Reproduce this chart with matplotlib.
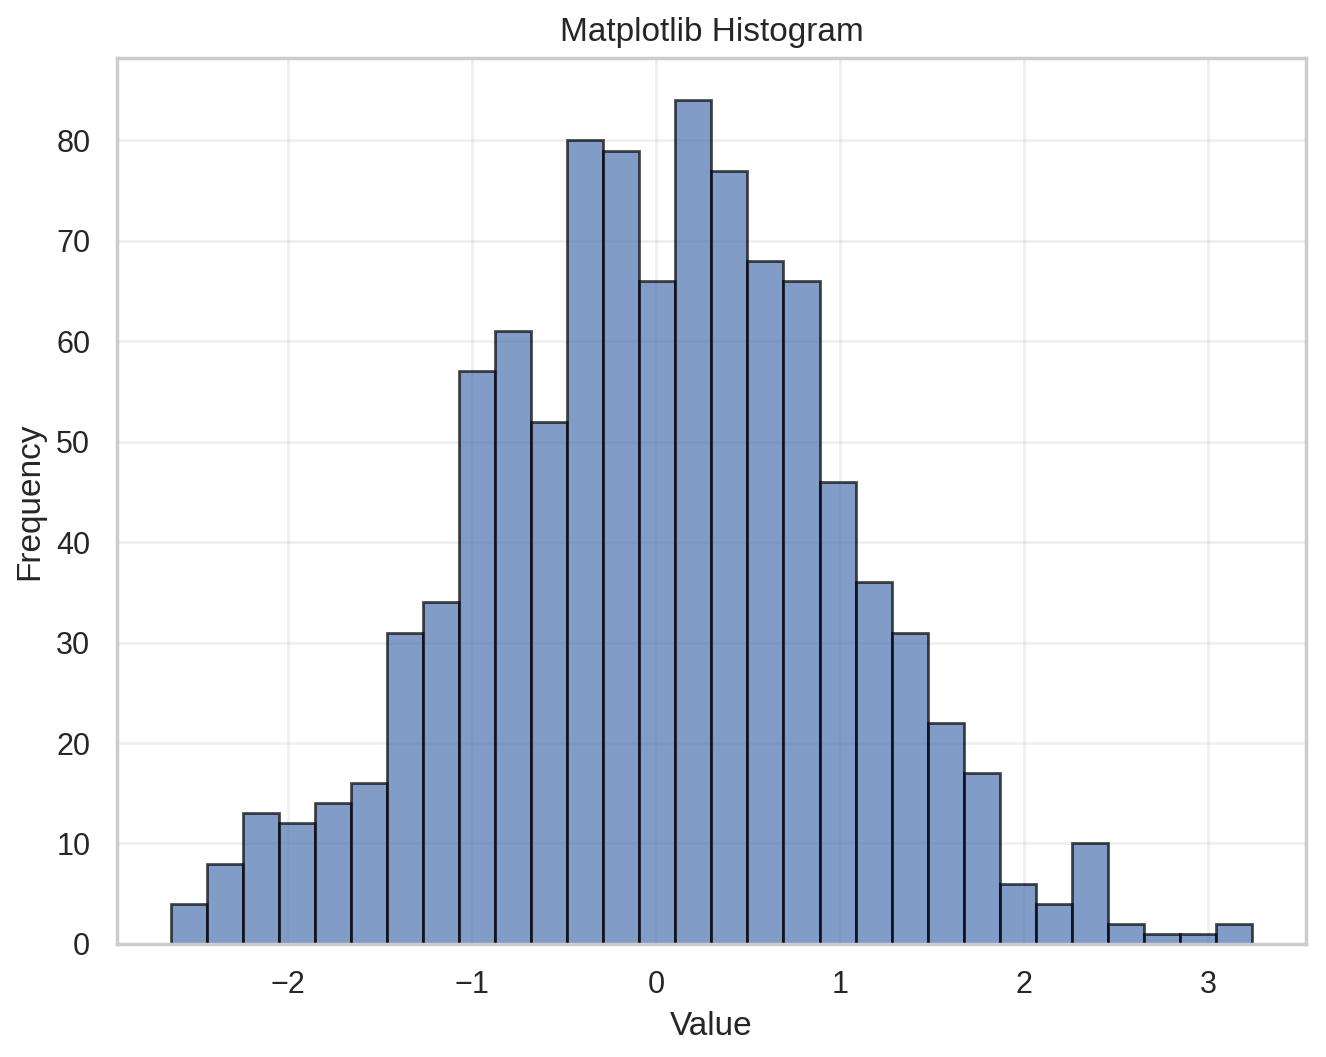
import numpy as np
import matplotlib
matplotlib.use("Agg")
import matplotlib.pyplot as plt
import seaborn as sns

# bin counts (30 bins)
counts = [4, 8, 13, 12, 14, 16, 31, 34, 57, 61, 52, 80, 79, 66, 84,
          77, 68, 66, 46, 36, 31, 22, 17, 6, 4, 10, 2, 1, 1, 2]
x_min = -2.636
x_max = 3.239
edges = np.linspace(x_min, x_max, len(counts) + 1)

sns.set_theme(style="whitegrid")
plt.rcParams['font.family'] = ['Arial', 'Liberation Sans', 'DejaVu Sans']

fig = plt.figure(figsize=(6.63, 5.285), dpi=200)
ax = fig.add_axes([0.088, 0.107, 0.897, 0.838])

ax.hist(edges[:-1], bins=edges, weights=counts, color='#4c72b0',
        alpha=0.7, edgecolor='black', linewidth=1.0)
ax.grid(True, alpha=0.3)
ax.set_title('Matplotlib Histogram')
ax.set_xlabel('Value')
ax.set_ylabel('Frequency')

fig.savefig('out.png', dpi=200)
